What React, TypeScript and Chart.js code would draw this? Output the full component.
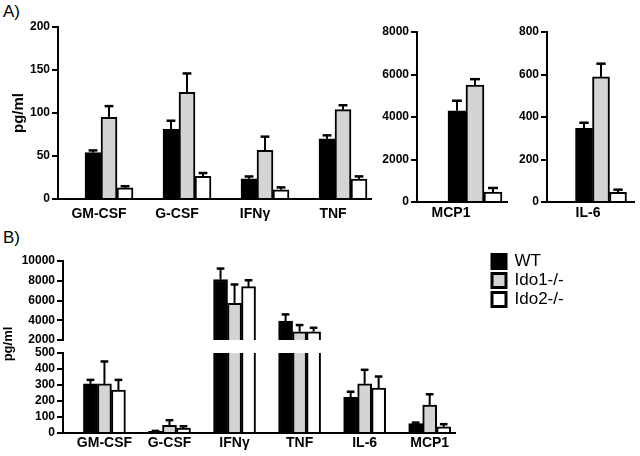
import { useEffect, useRef } from 'react';
import { Chart, registerables } from 'chart.js';
Chart.register(...registerables);

const FONT = "'Liberation Sans', Arial, Helvetica, sans-serif";
Chart.defaults.font.family = FONT;
Chart.defaults.color = '#000';

// ---------- series ----------
const seriesNames = ['WT', 'Ido1-/-', 'Ido2-/-'];
const seriesFill = ['#000000', '#d2d4d6', '#ffffff'];

// ---------- Panel A ----------
const catsA = ['GM-CSF', 'G-CSF', 'IFNγ', 'TNF'];
const aWT = [54, 81, 23.5, 70];
const aWTErr = [2.5, 10, 2.7, 4];
const aIdo1 = [95, 124, 56.5, 104];
const aIdo1Err = [13, 22, 16, 5];
const aIdo2 = [13, 26.3, 10.8, 23.3];
const aIdo2Err = [1.8, 3.9, 2.7, 3];
const ticksA = [0, 50, 100, 150, 200];

const catsMCP1 = ['MCP1'];
const mcpWT = [4295];
const mcpWTErr = [470];
const mcpIdo1 = [5500];
const mcpIdo1Err = [280];
const mcpIdo2 = [470];
const mcpIdo2Err = [190];
const ticksMCP1 = [0, 2000, 4000, 6000, 8000];

const catsIL6 = ['IL-6'];
const il6WT = [347];
const il6WTErr = [26];
const il6Ido1 = [589];
const il6Ido1Err = [62];
const il6Ido2 = [45];
const il6Ido2Err = [13];
const ticksIL6 = [0, 200, 400, 600, 800];

// ---------- Panel B ----------
const catsB = ['GM-CSF', 'G-CSF', 'IFNγ', 'TNF', 'IL-6', 'MCP1'];
const bWT = [307, 10, 8125, 3920, 223, 59];
const bWTErr = [25, 3, 1110, 670, 35, 6];
const bIdo1 = [307, 48, 5703, 2840, 307, 175];
const bIdo1Err = [140, 32, 1920, 675, 88, 67];
const bIdo2 = [269, 30, 7400, 2840, 280, 38];
const bIdo2Err = [63, 12, 650, 400, 73, 17];
const ticksBTop = [2000, 4000, 6000, 8000, 10000];
const ticksBBottom = [0, 100, 200, 300, 400, 500];

// ---------- plugins ----------
const errorBarPlugin = {
  id: 'errorBars',
  afterDatasetsDraw(chart: any) {
    const { ctx, chartArea } = chart;
    ctx.save();
    ctx.beginPath();
    ctx.rect(chartArea.left, chartArea.top, chartArea.right - chartArea.left, chartArea.bottom - chartArea.top);
    ctx.clip();
    ctx.strokeStyle = '#000';
    chart.data.datasets.forEach((ds: any, i: number) => {
      const errs = ds.errors;
      if (!errs) return;
      const meta = chart.getDatasetMeta(i);
      const yScale = chart.scales[meta.yAxisID];
      meta.data.forEach((bar: any, j: number) => {
        const v = ds.data[j];
        const e = errs[j];
        if (v == null || e == null) return;
        const x = bar.x;
        const y0 = yScale.getPixelForValue(v);
        const y1 = yScale.getPixelForValue(v + e);
        const cap = bar.width * 0.55;
        ctx.lineWidth = 2;
        ctx.beginPath();
        ctx.moveTo(x, y0);
        ctx.lineTo(x, y1);
        ctx.stroke();
        ctx.lineWidth = 2.5;
        ctx.beginPath();
        ctx.moveTo(x - cap / 2, y1);
        ctx.lineTo(x + cap / 2, y1);
        ctx.stroke();
      });
    });
    ctx.restore();
  },
};

const sideTitlePlugin = {
  id: 'sideTitle',
  afterDraw(chart: any, _args: any, opts: any) {
    if (!opts || !opts.text) return;
    const { ctx, chartArea } = chart;
    ctx.save();
    ctx.translate(opts.x, chartArea.top + opts.dy);
    ctx.rotate(-Math.PI / 2);
    ctx.font = `bold ${opts.size}px ${FONT}`;
    ctx.fillStyle = '#000';
    ctx.textAlign = 'center';
    ctx.textBaseline = 'middle';
    ctx.fillText(opts.text, 0, 0);
    ctx.restore();
  },
};

// ---------- builders ----------
function yAxis(ticks: number[], width: number, title?: any) {
  return {
    type: 'linear',
    position: 'left',
    min: ticks[0],
    max: ticks[ticks.length - 1],
    afterBuildTicks: (s: any) => {
      s.ticks = ticks.map((v) => ({ value: v }));
    },
    afterFit: (s: any) => {
      s.width = width;
    },
    grid: { display: true, drawOnChartArea: false, drawTicks: true, tickLength: 6, color: '#000', lineWidth: 2 },
    border: { display: true, color: '#000', width: 2 },
    ticks: {
      color: '#000',
      font: { family: FONT, size: 12, weight: 'bold' },
      padding: 2,
      autoSkip: false,
      callback: (v: any) => String(v),
    },
    title: title || { display: false },
  };
}

function xAxis(labels: string[], min: number, max: number, height: number, fontSize: number, padding: number, labelOffset: number, display = true) {
  return {
    type: 'linear',
    position: 'bottom',
    display,
    min,
    max,
    offset: false,
    afterBuildTicks: (s: any) => {
      s.ticks = labels.map((_, i) => ({ value: i + 1 }));
    },
    afterFit: (s: any) => {
      s.height = height;
    },
    grid: { display: false, drawTicks: false },
    border: { display: true, color: '#000', width: 2 },
    ticks: {
      color: '#000',
      font: { family: FONT, size: fontSize, weight: 'bold' },
      padding,
      labelOffset,
      maxRotation: 0,
      autoSkip: false,
      callback: (v: any) => labels[Math.round(v) - 1] ?? '',
    },
  };
}

function barDatasets(values: number[][], errors: number[][], thickness: number) {
  return seriesNames.map((name, i) => ({
    label: name,
    data: values[i],
    errors: errors[i],
    backgroundColor: seriesFill[i],
    borderColor: '#000',
    borderWidth: 2,
    barThickness: thickness,
    clip: 0,
  }));
}

function barConfig(opts: any) {
  return {
    type: 'bar',
    data: {
      labels: opts.labels.map((_: string, i: number) => i + 1),
      datasets: barDatasets(opts.values, opts.errors, opts.thickness),
    },
    options: {
      responsive: false,
      animation: false,
      events: [],
      layout: { padding: opts.padding },
      scales: { x: opts.x, y: opts.y },
      plugins: {
        legend: { display: false },
        tooltip: { enabled: false },
        sideTitle: opts.sideTitle || {},
      },
    },
    plugins: [errorBarPlugin, sideTitlePlugin],
  };
}

type Spec = { left: number; top: number; width: number; height: number; config: any };

const specs: Spec[] = [
  {
    left: 0, top: 0, width: 380, height: 232,
    config: barConfig({
      labels: catsA,
      values: [aWT, aIdo1, aIdo2],
      errors: [aWTErr, aIdo1Err, aIdo2Err],
      thickness: 16,
      padding: { top: 27, right: 9, left: 0, bottom: 0 },
      x: xAxis(catsA, 0.346, 4.359, 33, 14, 7, -10),
      y: yAxis(ticksA, 58, {
        display: true, text: 'pg/ml', color: '#000',
        font: { family: FONT, size: 15, weight: 'bold', lineHeight: 1 },
        padding: { top: 11, bottom: 0 },
      }),
    }),
  },
  {
    left: 370, top: 0, width: 140, height: 232,
    config: barConfig({
      labels: catsMCP1,
      values: [mcpWT, mcpIdo1, mcpIdo2],
      errors: [mcpWTErr, mcpIdo1Err, mcpIdo2Err],
      thickness: 18,
      padding: { top: 32, right: 3, left: 0, bottom: 0 },
      x: xAxis(catsMCP1, 0, 1.552, 30, 14, 3, -24),
      y: yAxis(ticksMCP1, 47),
    }),
  },
  {
    left: 515, top: 0, width: 125, height: 232,
    config: barConfig({
      labels: catsIL6,
      values: [il6WT, il6Ido1, il6Ido2],
      errors: [il6WTErr, il6Ido1Err, il6Ido2Err],
      thickness: 17,
      padding: { top: 32, right: 6, left: 0, bottom: 0 },
      x: xAxis(catsIL6, 0, 1.611, 30, 14, 3, -13),
      y: yAxis(ticksIL6, 32),
    }),
  },
  {
    left: 0, top: 240, width: 460, height: 110,
    config: barConfig({
      labels: catsB,
      values: [bWT, bIdo1, bIdo2],
      errors: [bWTErr, bIdo1Err, bIdo2Err],
      thickness: 14,
      padding: { top: 21, right: 5, left: 0, bottom: 10 },
      x: xAxis(catsB, 0.363, 6.389, 0, 14, 2, 0, false),
      y: yAxis(ticksBTop, 63),
    }),
  },
  {
    left: 0, top: 315, width: 460, height: 141,
    config: barConfig({
      labels: catsB,
      values: [bWT, bIdo1, bIdo2],
      errors: [bWTErr, bIdo1Err, bIdo2Err],
      thickness: 14,
      padding: { top: 38, right: 5, left: 0, bottom: 0 },
      x: xAxis(catsB, 0.363, 6.389, 23, 14, 2, 0),
      y: yAxis(ticksBBottom, 63),
      sideTitle: { text: 'pg/ml', x: 8.5, dy: -9, size: 13 },
    }),
  },
  {
    left: 490, top: 251, width: 100, height: 140,
    config: {
      type: 'bar',
      data: {
        labels: [],
        datasets: seriesNames.map((name, i) => ({
          label: name,
          data: [],
          backgroundColor: seriesFill[i],
          borderColor: '#000',
          borderWidth: 3,
        })),
      },
      options: {
        responsive: false,
        animation: false,
        events: [],
        layout: { padding: 0 },
        scales: { x: { display: false }, y: { display: false } },
        plugins: {
          tooltip: { enabled: false },
          legend: {
            display: true,
            position: 'top',
            align: 'start',
            labels: { boxWidth: 14, boxHeight: 14, padding: 2, color: '#000', font: { family: FONT, size: 17 } },
          },
        },
      },
    },
  },
];

function ChartCanvas({ spec }: { spec: Spec }) {
  const ref = useRef<HTMLCanvasElement>(null);
  useEffect(() => {
    const chart = new Chart(ref.current as HTMLCanvasElement, spec.config);
    return () => chart.destroy();
  }, [spec]);
  return (
    <canvas
      ref={ref}
      width={spec.width}
      height={spec.height}
      style={{ position: 'absolute', left: spec.left, top: spec.top, width: spec.width, height: spec.height }}
    />
  );
}

export default function App() {
  return (
    <div style={{ position: 'absolute', left: 0, top: 0, width: 640, height: 456, overflow: 'hidden', background: '#fff' }}>
      <div style={{ position: 'absolute', left: 3, top: 3, fontFamily: FONT, fontSize: 17, lineHeight: '17px', color: '#000' }}>A)</div>
      <div style={{ position: 'absolute', left: 3, top: 229, fontFamily: FONT, fontSize: 17, lineHeight: '17px', color: '#000' }}>B)</div>
      {specs.map((s, i) => (
        <ChartCanvas key={i} spec={s} />
      ))}
    </div>
  );
}
